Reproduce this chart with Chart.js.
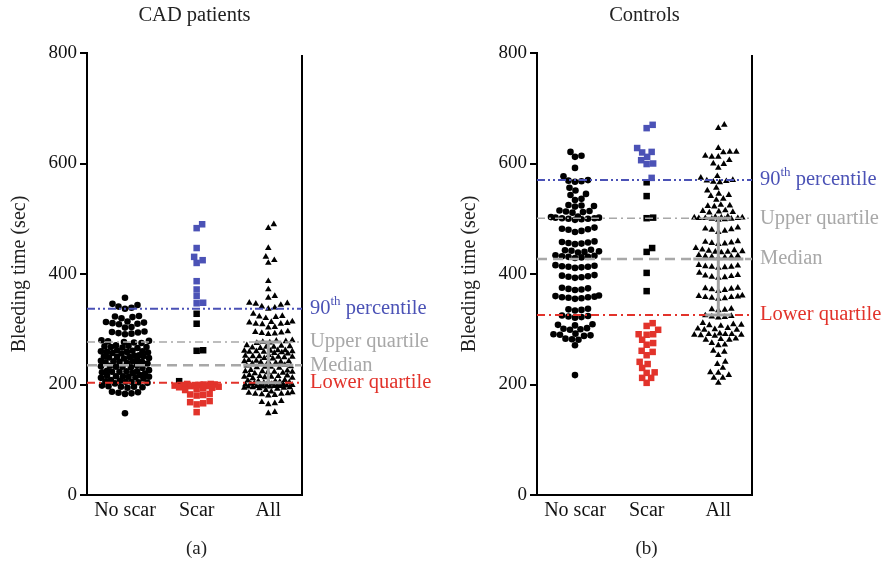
<!DOCTYPE html>
<html>
<head>
<meta charset="utf-8">
<script src="https://cdn.jsdelivr.net/npm/chart.js@4.4.1/dist/chart.umd.min.js"></script>
<style>
  body { margin: 0; background: #fff; }
  #wrap { position: relative; width: 885px; height: 565px; }
  canvas { position: absolute; top: 0; }
</style>
</head>
<body>
<div id="wrap">
  <canvas id="cad" width="450" height="565" style="left:0"></canvas>
  <canvas id="ctl" width="435" height="565" style="left:450px"></canvas>
</div>
<script>
// groups on the x axis
var categories = ['No scar', 'Scar', 'All'];
var yTicks = [0, 200, 400, 600, 800];

// CAD patients, bleeding time (sec)
var cadNoScar = [357, 344, 341, 346, 337, 339, 322, 324, 320, 323, 311, 313, 310, 312, 309, 314, 304, 303,
  293, 295, 292, 294, 291, 296, 277, 279, 276, 278, 280, 275, 268, 269, 267, 270, 266, 268, 271,
  259, 260, 258, 261, 257, 259, 262, 256, 260, 250, 251, 249, 252, 248, 250, 253, 247, 251,
  241, 242, 240, 243, 239, 241, 244, 238, 242, 232, 233, 231, 234, 230, 232, 235,
  223, 224, 222, 225, 221, 223, 226, 220, 224, 214, 215, 213, 216, 212, 214, 217, 211, 215,
  205, 206, 204, 207, 203, 205, 208, 202, 196, 197, 195, 198, 194, 196, 185, 186, 184, 187, 183, 148];
var cadScar = [490, 483, 447, 431, 425, 420, 387, 372, 360, 348, 347, 328, 310, 262, 261, 206,
  201, 200, 199, 201, 198, 197, 199, 196, 198, 195, 197, 194, 200, 193, 192, 190,
  182, 181, 183, 180, 170, 168, 166, 164, 150];
// 90th percentile, upper quartile, median, lower quartile
var cadRefs = [337, 277, 235, 203];

// Controls
var ctlNoScar = [621, 614, 612, 592, 577, 569, 568, 567, 570, 556, 551, 543, 545, 534, 536,
  523, 524, 522, 525, 513, 514, 512, 515, 511, 501, 502, 500, 503, 499, 501, 504, 498, 502, 500,
  480, 482, 478, 484, 476, 481, 456, 458, 455, 459, 454, 457, 441, 443, 440, 444, 439, 442,
  431, 432, 430, 433, 429, 431, 434, 413, 414, 412, 415, 411, 413, 416, 395, 397, 394, 398, 393, 396,
  373, 374, 372, 375, 371, 358, 359, 357, 360, 356, 358, 361, 355, 335, 336, 334, 337,
  323, 324, 322, 325, 321, 308, 309, 307, 300, 301, 299, 302, 290, 291, 289, 292, 288,
  282, 283, 281, 271, 217];
var ctlScar = [670, 664, 628, 621, 620, 612, 606, 600, 599, 574, 566, 541, 502, 501, 447, 440, 402, 369,
  311, 306, 299, 291, 290, 291, 281, 272, 275, 259, 261, 253, 241, 237, 230, 222, 221, 212, 212, 203];
var ctlRefs = [570, 501, 427, 326];

var refNames = ['percentile', 'Upper quartile', 'Median', 'Lower quartile'];

var BLUE = '#4b52b6', GREY = '#a8a8a8', RED = '#e2332b';
var SERIF = '"Liberation Serif", "DejaVu Serif", serif';
var GAP = 6.5;
var HALF = [24, 22, 24]; // max half width of each swarm, px

function pts(values, cat) {
  return values.map(function (v) { return { x: cat, y: v }; });
}

// spread points sideways (beeswarm), kept inside a max width; overlap when crowded
function swarm(chart) {
  var xs = chart.scales.x, ys = chart.scales.y;
  var unit = xs.getPixelForValue(1) - xs.getPixelForValue(0);
  chart.data.datasets.forEach(function (ds) {
    var placed = [];
    var half = HALF[ds.cat];
    var order = ds.data.map(function (p, k) { return k; })
      .sort(function (a, b) { return ds.data[a].y - ds.data[b].y; });
    order.forEach(function (k) {
      var py = ys.getPixelForValue(ds.data[k].y);
      var best = 0, bestD = -1;
      for (var s = 0; s <= half * 4; s++) {
        var cand = s === 0 ? 0 : (s % 2 ? 1 : -1) * Math.ceil(s / 2) * 0.5;
        var dmin = Infinity;
        placed.forEach(function (q) {
          var d = Math.sqrt((q.x - cand) * (q.x - cand) + (q.y - py) * (q.y - py));
          if (d < dmin) dmin = d;
        });
        if (dmin >= GAP) { best = cand; bestD = dmin; break; }
        if (dmin > bestD) { bestD = dmin; best = cand; }
      }
      placed.push({ x: best, y: py });
      ds.data[k].x = ds.cat + best / unit;
    });
  });
}

function decoPlugin(title, letter, refs) {
  return {
    id: 'deco',
    afterDatasetsDraw: function (chart) {
      var ctx = chart.ctx, a = chart.chartArea, y = chart.scales.y, x = chart.scales.x;
      ctx.save();
      // right spine
      ctx.strokeStyle = '#000';
      ctx.lineWidth = 2;
      ctx.beginPath();
      ctx.moveTo(a.right, a.top + 2);
      ctx.lineTo(a.right, a.bottom);
      ctx.stroke();

      // reference lines
      var styles = [
        { c: BLUE, d: [8, 3, 2, 3, 2, 3], w: 2 },
        { c: GREY, d: [8, 4, 2, 4], w: 1.5 },
        { c: GREY, d: [10, 6], w: 2.5 },
        { c: RED, d: [8, 4, 2, 4], w: 2 }
      ];
      refs.forEach(function (v, i) {
        var py = y.getPixelForValue(v);
        ctx.strokeStyle = styles[i].c;
        ctx.lineWidth = styles[i].w;
        ctx.setLineDash(styles[i].d);
        ctx.beginPath();
        ctx.moveTo(a.left, py);
        ctx.lineTo(a.right, py);
        ctx.stroke();
      });
      ctx.setLineDash([]);

      // median and quartile bar on "All"
      var cx = x.getPixelForValue(2);
      var top = y.getPixelForValue(refs[1]), mid = y.getPixelForValue(refs[2]), bot = y.getPixelForValue(refs[3]);
      ctx.strokeStyle = '#a0a0a0';
      ctx.lineWidth = 3;
      ctx.beginPath();
      ctx.moveTo(cx, top); ctx.lineTo(cx, bot);
      ctx.moveTo(cx - 13, top); ctx.lineTo(cx + 13, top);
      ctx.moveTo(cx - 13, bot); ctx.lineTo(cx + 13, bot);
      ctx.moveTo(cx - 25, mid); ctx.lineTo(cx + 25, mid);
      ctx.stroke();

      // labels at the right
      ctx.textBaseline = 'middle';
      ctx.textAlign = 'left';
      var lx = a.right + 8;
      var colors = [BLUE, GREY, GREY, RED];
      refs.forEach(function (v, i) {
        var py = y.getPixelForValue(v);
        ctx.fillStyle = colors[i];
        ctx.font = '20.5px ' + SERIF;
        if (i === 0) {
          ctx.fillText('90', lx, py);
          var w = ctx.measureText('90').width;
          ctx.font = '13px ' + SERIF;
          ctx.fillText('th', lx + w, py - 7);
          var w2 = ctx.measureText('th').width;
          ctx.font = '20.5px ' + SERIF;
          ctx.fillText(' ' + refNames[0], lx + w + w2, py);
        } else {
          ctx.fillText(refNames[i], lx, py);
        }
      });

      // titles
      ctx.fillStyle = '#222';
      ctx.textAlign = 'center';
      ctx.font = '20.5px ' + SERIF;
      ctx.fillText(title, (a.left + a.right) / 2, 16);
      ctx.font = '19px ' + SERIF;
      ctx.fillText(letter, (a.left + a.right) / 2 + 2, 549);
      ctx.translate(20, (a.top + a.bottom) / 2);
      ctx.rotate(-Math.PI / 2);
      ctx.font = '20px ' + SERIF;
      ctx.fillText('Bleeding time (sec)', 0, 0);
      ctx.restore();
    }
  };
}

function makePanel(id, noScar, scar, refs, title, letter, padRight) {
  var scarColors = scar.map(function (v) {
    return v > refs[0] ? BLUE : (v < refs[3] ? RED : '#000');
  });
  var chart = new Chart(document.getElementById(id).getContext('2d'), {
    type: 'scatter',
    data: {
      datasets: [
        { cat: 0, data: pts(noScar, 0), pointStyle: 'circle', pointRadius: 3.3,
          backgroundColor: '#000', borderWidth: 0 },
        { cat: 1, data: pts(scar, 1), pointStyle: 'rect', pointRadius: 4.6,
          backgroundColor: scarColors, borderWidth: 0 },
        { cat: 2, data: pts(noScar.concat(scar), 2), pointStyle: 'triangle', pointRadius: 3.8,
          backgroundColor: '#000', borderWidth: 0 }
      ]
    },
    options: {
      responsive: false,
      animation: false,
      layout: { padding: { left: 0, right: padRight, top: 53, bottom: 30 } },
      plugins: { legend: { display: false }, tooltip: { enabled: false } },
      scales: {
        x: {
          type: 'linear', min: -0.53, max: 2.47,
          afterBuildTicks: function (axis) {
            axis.ticks = [0, 1, 2].map(function (v) { return { value: v }; });
          },
          afterFit: function (s) { s.height = 40; },
          grid: { display: false },
          border: { display: true, color: '#000', width: 2 },
          ticks: {
            color: '#111', padding: -4, font: { family: SERIF, size: 20 },
            callback: function (v) { return categories[v]; }
          }
        },
        y: {
          min: 0, max: 800,
          afterBuildTicks: function (axis) {
            axis.ticks = yTicks.map(function (v) { return { value: v }; });
          },
          afterFit: function (s) { s.width = 87; },
          grid: { display: true, drawOnChartArea: false, drawTicks: true, tickLength: 7, color: '#000', lineWidth: 2 },
          border: { display: true, color: '#000', width: 2 },
          ticks: { color: '#111', padding: 3, font: { family: SERIF, size: 19 } }
        }
      }
    },
    plugins: [decoPlugin(title, letter, refs)]
  });
  swarm(chart);
  chart.update('none');
  return chart;
}

makePanel('cad', cadNoScar, cadScar, cadRefs, 'CAD patients', '(a)', 148);
makePanel('ctl', ctlNoScar, ctlScar, ctlRefs, 'Controls', '(b)', 133);
</script>
</body>
</html>
